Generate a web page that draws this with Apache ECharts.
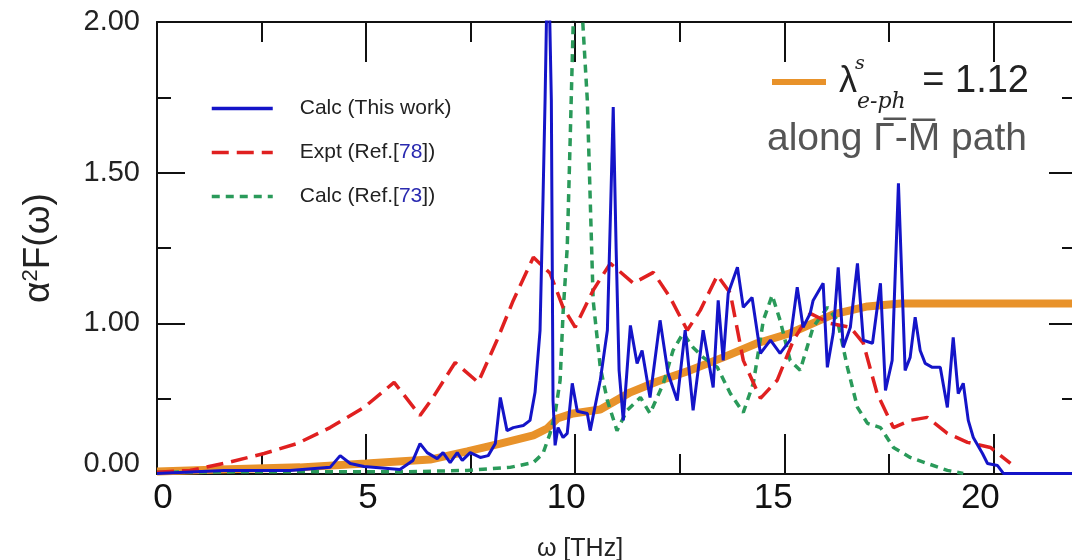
<!DOCTYPE html>
<html>
<head>
<meta charset="utf-8">
<script src="https://cdn.jsdelivr.net/npm/echarts@6/dist/echarts.min.js"></script>
<style>
  html, body { margin: 0; padding: 0; background: #fff; }
  #main { width: 1072px; height: 560px; }
</style>
</head>
<body>
<div id="main"></div>
<script>
// [omega THz, a2F]
var calcThisWork = [
  [0.00,0.502],[1.60,0.512],[3.18,0.512],[4.14,0.522],[4.38,0.561],[4.62,0.535],[4.95,0.525],
  [5.81,0.515],[6.12,0.545],[6.29,0.601],[6.46,0.571],[6.70,0.551],[6.84,0.571],[7.01,0.538],
  [7.18,0.571],[7.30,0.545],[7.49,0.571],[7.73,0.555],[7.92,0.561],[8.09,0.601],[8.21,0.754],
  [8.37,0.644],[8.52,0.654],[8.76,0.661],[8.92,0.678],[9.04,0.771],[9.16,0.977],[9.23,1.409],
  [9.28,1.741],[9.35,2.30],[9.43,1.741],[9.47,0.744],[9.52,0.595],[9.59,0.654],[9.71,0.621],
  [9.81,0.635],[9.93,0.801],[10.05,0.708],[10.29,0.701],[10.36,0.644],[10.60,0.811],[10.77,0.977],
  [10.84,1.342],[10.91,1.718],[10.98,1.243],[11.05,0.844],[11.15,0.678],[11.32,0.993],[11.48,0.867],
  [11.60,0.910],[11.79,0.754],[12.03,1.010],[12.22,0.834],[12.44,0.744],[12.63,0.977],[12.82,0.711],
  [13.06,0.977],[13.30,0.787],[13.42,1.076],[13.54,0.877],[13.66,1.100],[13.88,1.186],[14.02,1.053],
  [14.23,1.086],[14.43,0.900],[14.67,0.944],[14.90,0.900],[15.14,0.944],[15.31,1.120],[15.45,0.987],
  [15.62,1.033],[15.69,1.076],[15.93,1.133],[16.03,0.854],[16.17,0.967],[16.29,1.186],[16.41,0.920],
  [16.58,0.987],[16.75,1.199],[16.89,0.944],[17.11,0.934],[17.30,1.133],[17.42,0.777],[17.58,0.877],
  [17.73,1.465],[17.89,0.844],[18.01,0.887],[18.13,1.020],[18.25,0.910],[18.37,0.867],[18.54,0.854],
  [18.73,0.854],[18.90,0.721],[19.04,0.953],[19.16,0.767],[19.28,0.801],[19.40,0.678],[19.52,0.621],
  [19.74,0.568],[19.86,0.535],[20.10,0.528],[20.24,0.502],[22.00,0.502]
];
var exptRef78 = [
  [0.00,0.506],[0.79,0.512],[1.60,0.535],[2.56,0.568],[3.35,0.601],[4.14,0.654],[4.95,0.721],
  [5.67,0.804],[6.29,0.694],[6.60,0.754],[7.13,0.870],[7.68,0.804],[8.13,0.944],[8.52,1.076],
  [9.00,1.219],[9.40,1.166],[9.71,1.053],[10.00,0.987],[10.43,1.110],[10.84,1.199],[11.39,1.133],
  [11.87,1.169],[12.27,1.086],[12.68,0.977],[12.99,1.043],[13.40,1.159],[13.71,1.100],[14.02,0.877],
  [14.43,0.751],[14.83,0.811],[15.22,0.944],[15.62,1.033],[16.10,1.000],[16.58,0.987],[16.89,0.934],
  [17.22,0.767],[17.61,0.654],[18.01,0.678],[18.42,0.688],[18.90,0.635],[19.38,0.605],[19.93,0.588],
  [20.41,0.535]
];
var calcRef73 = [
  [0.00,0.506],[3.42,0.508],[5.81,0.507],[7.42,0.512],[8.44,0.522],[9.00,0.538],[9.23,0.568],
  [9.40,0.635],[9.52,0.701],[9.64,0.811],[9.71,1.033],[9.81,1.252],[9.88,1.608],[9.93,1.874],
  [10.02,2.35],[10.16,2.05],[10.29,1.741],[10.36,1.409],[10.43,1.076],[10.60,0.854],[10.77,0.744],
  [11.00,0.644],[11.24,0.711],[11.56,0.754],[11.79,0.701],[12.11,0.801],[12.34,0.910],[12.58,0.967],
  [12.82,0.920],[13.06,0.887],[13.40,0.854],[13.71,0.767],[14.02,0.704],[14.26,0.801],[14.50,1.010],
  [14.71,1.093],[14.90,1.010],[15.14,0.877],[15.38,0.844],[15.69,0.987],[16.03,1.053],[16.27,1.010],
  [16.51,0.854],[16.75,0.721],[16.99,0.668],[17.30,0.654],[17.61,0.588],[18.01,0.555],[18.42,0.535],
  [18.90,0.512],[19.28,0.502]
];
var lambdaCum = [
  [0.00,0.508],[1.51,0.515],[3.42,0.522],[5.00,0.535],[6.53,0.548],[7.42,0.575],[8.21,0.601],
  [9.00,0.628],[9.33,0.651],[9.57,0.684],[9.95,0.701],[10.60,0.714],[11.32,0.771],[11.96,0.807],
  [12.75,0.844],[13.54,0.887],[14.35,0.934],[15.14,0.967],[16.17,1.030],[16.99,1.056],[17.78,1.066],
  [22.00,1.066]
];
var seriesNames = ['Calc (This work)', 'Expt (Ref.[78])', 'Calc (Ref.[73])', 'lambda'];

var font = "'Liberation Sans', Arial, sans-serif";
var serif = "'DejaVu Serif', 'Liberation Serif', serif";
var chart = echarts.init(document.getElementById('main'));

var axisLine = { show: true, onZero: false, lineStyle: { color: '#111', width: 2 } };
var tickStyle = { color: '#111', width: 2 };

// the printed x labels sit a little off their ticks in the original figure
var xLabelRich = {
  p0: { padding: [0, 0, 0, 12] }, p5: { padding: [0, 0, 0, 4] },
  p10: { padding: [0, 18, 0, 0] }, p15: { padding: [0, 22, 0, 0] }, p20: { padding: [0, 26, 0, 0] }
};
for (var k in xLabelRich) {
  xLabelRich[k].fontFamily = font; xLabelRich[k].fontSize = 35; xLabelRich[k].color = '#111';
}

option = {
  animation: false,
  backgroundColor: '#fff',
  grid: { left: 157, right: -5, top: 22, bottom: 86, outerBoundsMode: 'none', containLabel: false },
  legend: [{
    data: seriesNames.slice(0, 3),
    orient: 'vertical',
    left: 210,
    top: 98,
    padding: 0,
    itemWidth: 61,
    itemHeight: 14,
    itemGap: 23,
    itemStyle: { opacity: 0 },
    lineStyle: { width: 3.5 },
    textStyle: {
      fontFamily: font, fontSize: 21, color: '#222', padding: [0, 0, 0, 22],
      rich: { n: { fontFamily: font, fontSize: 21, color: '#2a2ab0' } }
    },
    formatter: function (name) {
      return name.replace(/\[(\d+)\]/, '[{n|$1}]');
    }
  }, {
    data: ['lambda'],
    left: 769,
    top: 63,
    padding: 0,
    itemWidth: 54,
    itemHeight: 14,
    itemStyle: { opacity: 0 },
    lineStyle: { width: 6 },
    textStyle: {
      fontFamily: font, color: '#222', padding: [0, 0, 0, 8],
      rich: {
        l: { fontFamily: font, fontSize: 36, color: '#222', verticalAlign: 'middle' },
        sub: { fontFamily: serif, fontStyle: 'italic', fontSize: 22, color: '#222', padding: [40, 0, 0, 0] },
        eq: { fontFamily: font, fontSize: 38, color: '#222', verticalAlign: 'middle', padding: [0, 0, 0, 6] }
      }
    },
    formatter: function () { return '{l|λ}{sub|e-ph}{eq| = 1.12}'; }
  }],
  graphic: [{
    type: 'text', left: 855, top: 55,
    style: { text: 's', fontFamily: serif, fontStyle: 'italic', fontSize: 19, fill: '#222' }
  }, {
    type: 'text', left: 767, top: 120,
    style: { text: 'along Γ\u0305-M\u0305 path', fontFamily: font, fontSize: 39, fill: '#555' }
  }],
  xAxis: [{
    type: 'value', min: 0, max: 22, interval: 5,
    name: 'ω [THz]', nameLocation: 'middle', nameGap: 63,
    nameTextStyle: { fontFamily: font, fontSize: 25, color: '#222', padding: [0, 74, 0, 0] },
    axisLine: axisLine,
    axisTick: { inside: true, length: 40, lineStyle: tickStyle },
    minorTick: { show: true, splitNumber: 2, length: 20, lineStyle: tickStyle },
    axisLabel: {
      fontFamily: font, fontSize: 35, color: '#111', margin: 7, showMaxLabel: false,
      formatter: function (v) { return '{p' + v + '|' + v + '}'; },
      rich: xLabelRich
    },
    splitLine: { show: false }
  }, {
    type: 'value', position: 'top', min: 0, max: 22, interval: 5,
    axisLine: axisLine,
    axisTick: { inside: true, length: 40, lineStyle: tickStyle },
    minorTick: { show: true, splitNumber: 2, length: 20, lineStyle: tickStyle },
    axisLabel: { show: false },
    splitLine: { show: false }
  }],
  yAxis: [{
    type: 'value', min: 0.5, max: 2, interval: 0.5,
    name: 'α{s|2}F(ω)', nameLocation: 'middle', nameGap: 100, nameRotate: 90,
    nameTextStyle: {
      fontFamily: font, fontSize: 37, color: '#222',
      rich: { s: { fontFamily: font, fontSize: 22, color: '#222', verticalAlign: 'top', padding: [0, 0, 14, 0] } }
    },
    axisLine: axisLine,
    axisTick: { inside: true, length: 28, lineStyle: tickStyle },
    minorTick: { show: true, splitNumber: 2, length: 14, lineStyle: tickStyle },
    axisLabel: {
      fontFamily: font, fontSize: 29, color: '#222', margin: 17,
      formatter: function (v) { return v === 0.5 ? '{z|0.00}' : v.toFixed(2); },
      rich: { z: { fontFamily: font, fontSize: 29, color: '#222', padding: [0, 0, 20, 0] } }
    },
    splitLine: { show: false }
  }, {
    type: 'value', position: 'right', offset: -5, min: 0.5, max: 2, interval: 0.5,
    axisLine: { show: false, onZero: false },
    axisTick: { show: true, inside: true, length: 23, lineStyle: tickStyle },
    minorTick: { show: true, splitNumber: 2, length: 10, lineStyle: tickStyle },
    axisLabel: { show: false },
    splitLine: { show: false }
  }],
  series: [{
    name: 'lambda', type: 'line', data: lambdaCum, symbol: 'none', z: 2,
    lineStyle: { color: '#e8922a', width: 8 }, itemStyle: { color: '#e8922a' }
  }, {
    name: seriesNames[2], type: 'line', data: calcRef73, symbol: 'none', z: 3,
    lineStyle: { color: '#2a9a5a', width: 3.5, type: [8, 6] }, itemStyle: { color: '#2a9a5a' }
  }, {
    name: seriesNames[1], type: 'line', data: exptRef78, symbol: 'none', z: 4,
    lineStyle: { color: '#e02020', width: 3.5, type: [17, 8] }, itemStyle: { color: '#e02020' }
  }, {
    name: seriesNames[0], type: 'line', data: calcThisWork, symbol: 'none', z: 5,
    lineStyle: { color: '#1414c8', width: 3 }, itemStyle: { color: '#1414c8' }
  }]
};
chart.setOption(option);
</script>
</body>
</html>
